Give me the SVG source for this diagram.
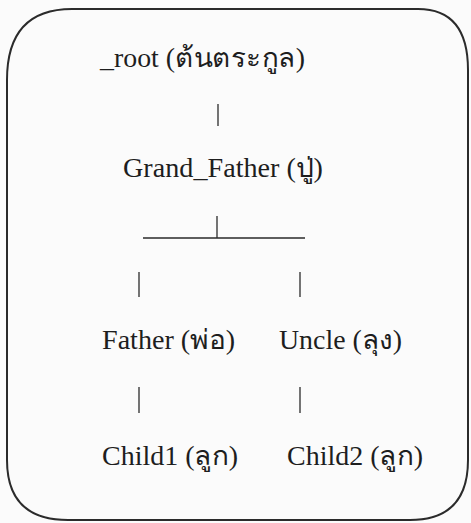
<svg xmlns="http://www.w3.org/2000/svg" width="471" height="523" viewBox="0 0 471 523">
<style>
.t{font-family:"Liberation Serif","DejaVu Serif","Noto Sans",serif;font-size:27px;fill:#1e1e1e}
.c{stroke:#2a2a2a;stroke-width:1.3;fill:none}
</style>
<rect x="0" y="0" width="471" height="523" fill="#fbfbfb"/>
<path d="M72,9 H418 Q468,9 468,70 V460 Q468,520 410,520 H68 Q7,520 7,460 V80 Q7,9 72,9 Z" fill="#fbfbfb" stroke="#2b2b2b" stroke-width="2"/>
<g id="connectors">
<line class="c" x1="218" y1="104" x2="218" y2="126"/>
<line class="c" x1="143" y1="238" x2="305" y2="238"/>
<line class="c" x1="217" y1="216" x2="217" y2="238"/>
<line class="c" x1="139" y1="272" x2="139" y2="297"/>
<line class="c" x1="300" y1="272" x2="300" y2="297"/>
<line class="c" x1="139" y1="387" x2="139" y2="413"/>
<line class="c" x1="300" y1="387" x2="300" y2="413"/>
</g>
<g id="root"><text class="t" x="100" y="67" textLength="205" lengthAdjust="spacingAndGlyphs">_root (ต้นตระกูล)</text></g>
<g id="grandfather"><text class="t" x="123" y="177" textLength="200" lengthAdjust="spacingAndGlyphs">Grand_Father (ปู่)</text></g>
<g id="father"><text class="t" x="102" y="349" textLength="133" lengthAdjust="spacingAndGlyphs">Father (พ่อ)</text></g>
<g id="uncle"><text class="t" x="279" y="349" textLength="123" lengthAdjust="spacingAndGlyphs">Uncle (ลุง)</text></g>
<g id="child1"><text class="t" x="102" y="465" textLength="136" lengthAdjust="spacingAndGlyphs">Child1 (ลูก)</text></g>
<g id="child2"><text class="t" x="287" y="465" textLength="136" lengthAdjust="spacingAndGlyphs">Child2 (ลูก)</text></g>
</svg>
